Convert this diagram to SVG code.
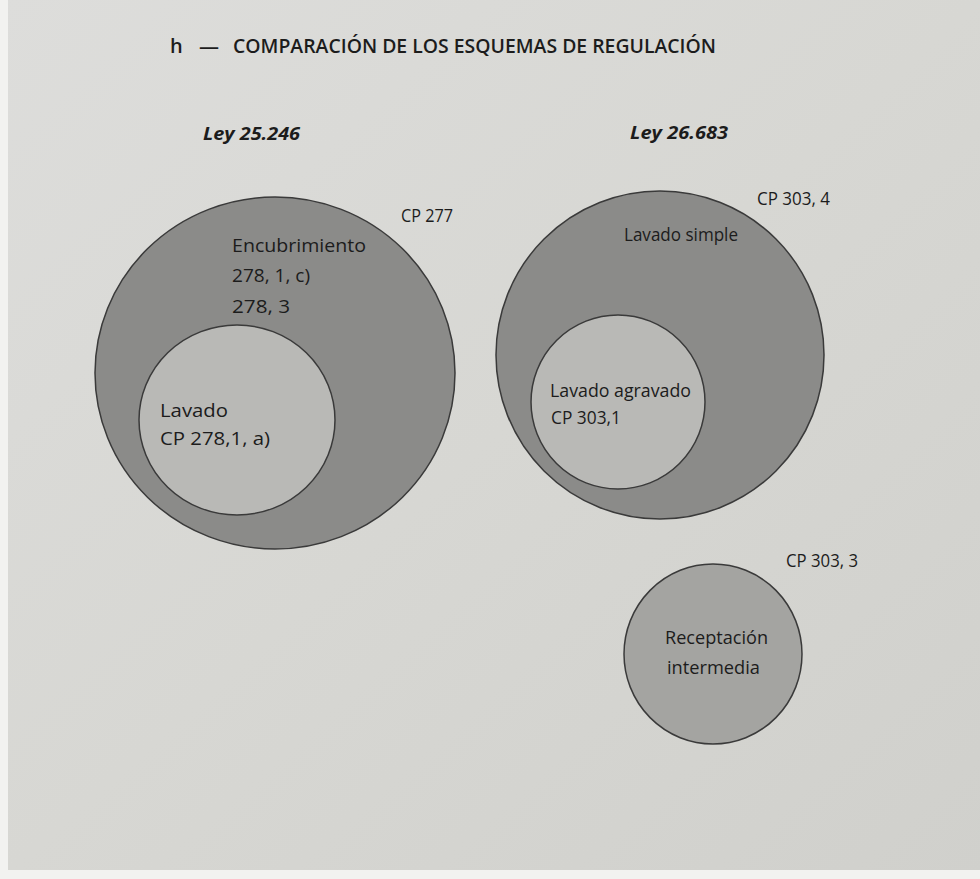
<svg xmlns="http://www.w3.org/2000/svg" width="980" height="879" viewBox="0 0 980 879">
<defs>
<linearGradient id="page" x1="0" y1="0" x2="1" y2="1">
<stop offset="0" stop-color="#dddddb"/>
<stop offset="0.5" stop-color="#d7d7d3"/>
<stop offset="1" stop-color="#d0d0cc"/>
</linearGradient>
<style>
.t{font-family:"Open Sans","Noto Sans","Liberation Sans",sans-serif;fill:#1c1c1c;}
.lbl{font-size:19px;}
.cp{font-size:18px;}
.ley{font-size:18px;font-style:italic;font-weight:bold;}
.title{font-size:20px;font-weight:600;}
.outer{fill:#8b8b89;stroke:#3a3a3a;stroke-width:1.5;}
.inner{fill:#b9b9b6;stroke:#3a3a3a;stroke-width:1.5;}
.single{fill:#a4a4a1;stroke:#3a3a3a;stroke-width:1.5;}
</style>
</defs>
<rect x="0" y="0" width="980" height="879" fill="url(#page)"/>
<rect x="0" y="0" width="8" height="879" fill="#f2f2f0"/>
<rect x="0" y="870" width="980" height="9" fill="#f2f2f0"/>

<g id="title">
<text class="t title" x="170" y="53">h</text>
<text class="t title" x="199" y="53">—</text>
<text class="t title" x="233" y="53" textLength="483" lengthAdjust="spacingAndGlyphs">COMPARACIÓN DE LOS ESQUEMAS DE REGULACIÓN</text>
</g>
<g id="ley-25246"><text class="t ley" x="203" y="140" textLength="97" lengthAdjust="spacingAndGlyphs">Ley 25.246</text></g>
<g id="ley-26683"><text class="t ley" x="630" y="139" textLength="98" lengthAdjust="spacingAndGlyphs">Ley 26.683</text></g>

<g id="encubrimiento">
<ellipse class="outer" cx="275" cy="373" rx="180" ry="176"/>
<text class="t cp" x="401" y="222" textLength="52" lengthAdjust="spacingAndGlyphs">CP 277</text>
<text class="t lbl" x="232" y="252" textLength="134" lengthAdjust="spacingAndGlyphs">Encubrimiento</text>
<text class="t lbl" x="232" y="282" textLength="78" lengthAdjust="spacingAndGlyphs">278, 1, c)</text>
<text class="t lbl" x="232" y="313" textLength="58" lengthAdjust="spacingAndGlyphs">278, 3</text>
</g>
<g id="lavado">
<ellipse class="inner" cx="237" cy="420" rx="98" ry="95"/>
<text class="t lbl" x="160" y="417" textLength="68" lengthAdjust="spacingAndGlyphs">Lavado</text>
<text class="t lbl" x="160" y="445" textLength="110" lengthAdjust="spacingAndGlyphs">CP 278,1, a)</text>
</g>

<g id="lavado-simple">
<ellipse class="outer" cx="660" cy="355" rx="164" ry="164"/>
<text class="t cp" x="757" y="205" textLength="73" lengthAdjust="spacingAndGlyphs">CP 303, 4</text>
<text class="t lbl" x="624" y="241" textLength="114" lengthAdjust="spacingAndGlyphs">Lavado simple</text>
</g>
<g id="lavado-agravado">
<ellipse class="inner" cx="618" cy="402" rx="87" ry="87"/>
<text class="t lbl" x="550" y="397" textLength="141" lengthAdjust="spacingAndGlyphs">Lavado agravado</text>
<text class="t lbl" x="551" y="424" textLength="70" lengthAdjust="spacingAndGlyphs">CP 303,1</text>
</g>

<g id="receptacion">
<ellipse class="single" cx="713" cy="654" rx="89" ry="90"/>
<text class="t cp" x="786" y="567" textLength="72" lengthAdjust="spacingAndGlyphs">CP 303, 3</text>
<text class="t lbl" x="665" y="644" textLength="103" lengthAdjust="spacingAndGlyphs">Receptación</text>
<text class="t lbl" x="667" y="674" textLength="93" lengthAdjust="spacingAndGlyphs">intermedia</text>
</g>
<g id="connectors"/>
</svg>
